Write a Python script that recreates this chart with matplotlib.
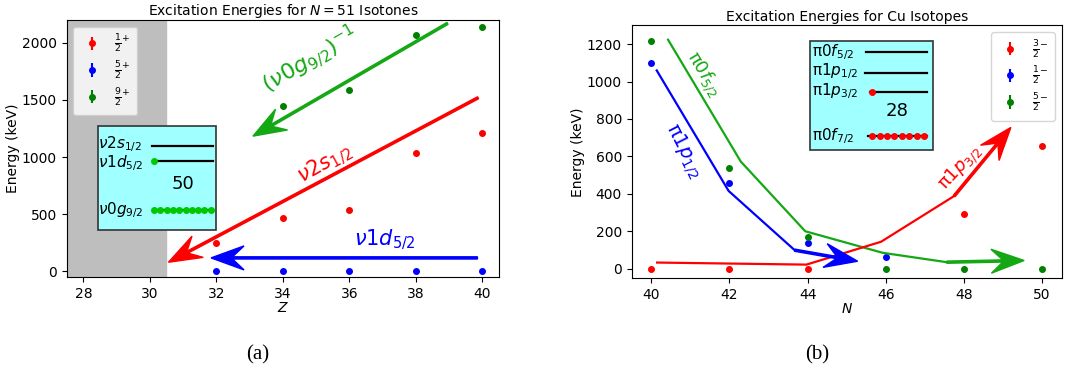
import matplotlib
matplotlib.use("Agg")
import matplotlib.pyplot as plt
import numpy as np
from matplotlib.patches import FancyArrow, Rectangle
from matplotlib.transforms import IdentityTransform

# ---- (a) N = 51 isotones ----
z_vals = [32, 34, 36, 38, 40]
e_half = [249, 464, 534, 1037, 1209]      # 1/2+
e_five = [0, 0, 0, 0, 0]                  # 5/2+
z_nine = [34, 36, 38, 40]
e_nine = [1443, 1583, 2067, 2137]         # 9/2+
err_a = [0, 0, 0, 0, 0]

# guide arrows (start, tip)
arr_g9 = [(38.95, 2170), (33.1, 1183)]
arr_s12 = [(39.87, 1519), (30.56, 79)]
arr_d52 = [(39.85, 117), (31.84, 117)]

# ---- (b) Cu isotopes ----
n_red = [40, 42, 44, 48, 50]
e_red = [0, 0, 0, 295, 657]               # 3/2-
n_blue = [40, 42, 44, 46]
e_blue = [1098, 457, 136, 62]             # 1/2-
n_green = [40, 42, 44, 46, 48, 50]
e_green = [1216, 536, 168, 0, 0, 0]       # 5/2-

# trend lines, last point is the arrow tip
f52_x = [40.43, 42.29, 43.94, 45.92, 47.56, 49.54]
f52_y = [1223, 573, 201, 86, 36, 45]
p12_x = [40.14, 41.98, 43.67, 45.28]
p12_y = [1059, 416, 100, 41]
p32_x = [40.15, 43.97, 45.88, 47.75, 49.2]
p32_y = [34, 23, 145, 389, 755]

GREEN = "#14a814"
BOXGREEN = "#00c800"
CYAN = "#a0ffff"

plt.rcParams["font.size"] = 10
fig = plt.figure(figsize=(10.83, 3.74), dpi=100)
ax1 = fig.add_axes([0.0616, 0.2594, 0.3992, 0.6872])
ax2 = fig.add_axes([0.5833, 0.2559, 0.3970, 0.6765])


def arrow(ax, p0, p1, color):
    a = ax.transData.transform(p0)
    b = ax.transData.transform(p1)
    d = b - a
    ar = FancyArrow(a[0], a[1], d[0], d[1], width=2.2, head_width=24,
                    head_length=33, overhang=0.35, length_includes_head=True,
                    color=color, transform=IdentityTransform(), zorder=4)
    ax.add_artist(ar)


# ---------- left panel ----------
ax1.set_xlim(27.5, 40.5)
ax1.set_ylim(-50, 2200)
ax1.axvspan(27.5, 30.5, color="#bebebe", zorder=0)
ax1.errorbar(z_vals, e_half, yerr=err_a, fmt="o", color="red", ms=4, label=r"$\frac{1}{2}^{+}$")
ax1.errorbar(z_vals, e_five, yerr=err_a, fmt="o", color="blue", ms=4, label=r"$\frac{5}{2}^{+}$")
ax1.errorbar(z_nine, e_nine, yerr=err_a[:4], fmt="o", color="green", ms=4, label=r"$\frac{9}{2}^{+}$")
ax1.set_xticks([28, 30, 32, 34, 36, 38, 40])
ax1.set_yticks([0, 500, 1000, 1500, 2000])
ax1.set_xlabel("$Z$", labelpad=0)
ax1.set_ylabel("Energy (keV)", labelpad=1)
ax1.set_title("Excitation Energies for $N = 51$ Isotones", fontsize=10, pad=3)
ax1.legend(loc="upper left", fontsize=9.5, handlelength=1.8, labelspacing=0.35,
           borderpad=0.5)

arrow(ax1, *arr_g9, GREEN)
arrow(ax1, *arr_s12, "red")
arrow(ax1, *arr_d52, "blue")
ax1.text(34.82, 1855, r"$(\nu0g_{9/2})^{-1}$", color=GREEN, fontsize=16, rotation=30,
         ha="center", va="center", rotation_mode="anchor")
ax1.text(35.27, 935, r"$\nu2s_{1/2}$", color="red", fontsize=15, rotation=29,
         ha="center", va="center", rotation_mode="anchor")
ax1.text(37.07, 272, r"$\nu1d_{5/2}$", color="blue", fontsize=15,
         ha="center", va="center")

# shell diagram inset
ax1.add_patch(Rectangle((28.44, 359), 31.99 - 28.44, 1270 - 359, facecolor=CYAN,
                        edgecolor="#333333", lw=1.2, zorder=3))
ax1.text(28.45, 1115, r"$\nu2s_{1/2}$", fontsize=11, va="center", zorder=5)
ax1.text(28.45, 950, r"$\nu1d_{5/2}$", fontsize=11, va="center", zorder=5)
ax1.text(28.45, 540, r"$\nu0g_{9/2}$", fontsize=11, va="center", zorder=5)
ax1.text(30.99, 765, "50", fontsize=13, ha="center", va="center", zorder=5)
ax1.plot([30.06, 31.89], [1095, 1095], color="black", lw=1.6, zorder=5)
ax1.plot([30.13, 31.89], [964, 964], color="black", lw=1.6, zorder=5)
ax1.plot([30.13, 31.89], [538, 538], color="black", lw=1.6, zorder=5)
ax1.plot([30.13], [964], "o", color=BOXGREEN, ms=4, zorder=6)
ax1.plot(np.linspace(30.13, 31.83, 10), [538] * 10, "o", color=BOXGREEN, ms=4, zorder=6)

# ---------- right panel ----------
ax2.set_xlim(39.5, 50.5)
ax2.set_ylim(-50, 1300)
ax2.errorbar(n_red, e_red, yerr=[0] * len(n_red), fmt="o", color="red", ms=4, label=r"$\frac{3}{2}^{-}$")
ax2.errorbar(n_blue, e_blue, yerr=[0] * len(n_blue), fmt="o", color="blue", ms=4, label=r"$\frac{1}{2}^{-}$")
ax2.errorbar(n_green, e_green, yerr=[0] * len(n_green), fmt="o", color="green", ms=4, label=r"$\frac{5}{2}^{-}$")
ax2.set_xticks([40, 42, 44, 46, 48, 50])
ax2.set_yticks([0, 200, 400, 600, 800, 1000, 1200])
ax2.set_xlabel("$N$", labelpad=0)
ax2.set_ylabel("Energy (keV)", labelpad=1)
ax2.set_title("Excitation Energies for Cu Isotopes", fontsize=10, pad=3)
ax2.legend(loc="upper right", fontsize=9.5, handlelength=1.8, labelspacing=0.35,
           borderpad=0.5)

for xs, ys, c in [(f52_x, f52_y, GREEN), (p12_x, p12_y, "blue"), (p32_x, p32_y, "red")]:
    ax2.plot(xs[:-1], ys[:-1], color=c, lw=1.6, zorder=3)
    arrow(ax2, (xs[-2], ys[-2]), (xs[-1], ys[-1]), c)

ax2.text(41.33, 1041, r"π0$f_{5/2}$", color=GREEN, fontsize=13, rotation=-59,
         ha="center", va="center", rotation_mode="anchor")
ax2.text(40.83, 630, r"π1$p_{1/2}$", color="blue", fontsize=14, rotation=-63,
         ha="center", va="center", rotation_mode="anchor")
ax2.text(47.91, 541, r"π1$p_{3/2}$", color="red", fontsize=13, rotation=47,
         ha="center", va="center", rotation_mode="anchor")

ax2.add_patch(Rectangle((44.07, 635), 47.2 - 44.07, 1216 - 635, facecolor=CYAN,
                        edgecolor="#333333", lw=1.2, zorder=3))
ax2.text(44.12, 1160, r"π0$f_{5/2}$", fontsize=11, va="center", zorder=5)
ax2.text(44.12, 1055, r"π1$p_{1/2}$", fontsize=11, va="center", zorder=5)
ax2.text(44.12, 950, r"π1$p_{3/2}$", fontsize=11, va="center", zorder=5)
ax2.text(44.12, 711, r"π0$f_{7/2}$", fontsize=11, va="center", zorder=5)
ax2.text(46.28, 845, "28", fontsize=13, ha="center", va="center", zorder=5)
ax2.plot([45.5, 47.06], [1157, 1157], color="black", lw=1.6, zorder=5)
ax2.plot([45.46, 47.06], [1046, 1046], color="black", lw=1.6, zorder=5)
ax2.plot([45.6, 47.06], [946, 946], color="black", lw=1.6, zorder=5)
ax2.plot([45.54, 47.06], [707, 707], color="black", lw=1.6, zorder=5)
ax2.plot([45.65], [946], "o", color="red", ms=4, zorder=6)
ax2.plot(np.linspace(45.65, 46.98, 8), [707] * 8, "o", color="red", ms=4, zorder=6)

fig.text(0.2382, 0.05, "(a)", family="Liberation Serif", fontsize=15, ha="center", va="center")
fig.text(0.755, 0.05, "(b)", family="Liberation Serif", fontsize=15, ha="center", va="center")

fig.savefig("out.png", dpi=100)
